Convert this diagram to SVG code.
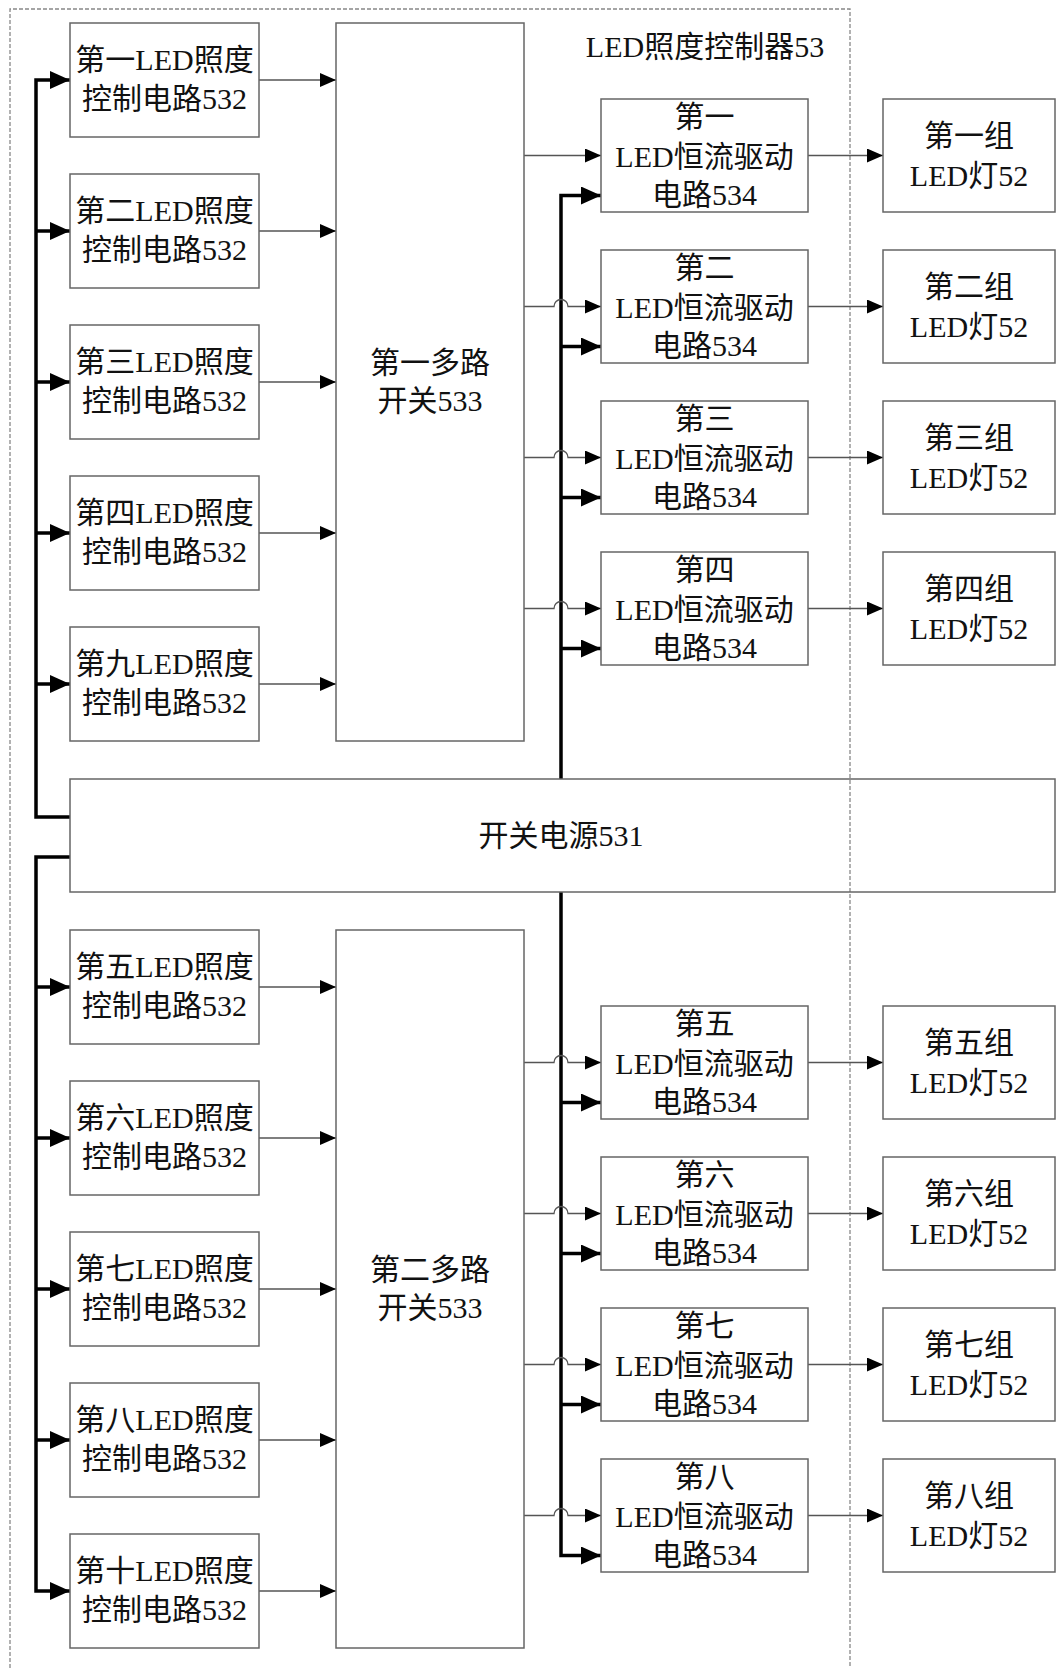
<svg xmlns="http://www.w3.org/2000/svg" width="1057" height="1668" viewBox="0 0 1057 1668">
<style>
.box{fill:none;stroke:#666;stroke-width:1.5}
.t{font-family:"Liberation Serif","Noto Sans CJK SC",serif;font-size:30px;fill:#111;text-anchor:middle}
.thin{fill:none;stroke:#555;stroke-width:1.3}
.thick{fill:none;stroke:#000;stroke-width:3.5}
.frame{fill:none;stroke:#888;stroke-width:1.3;stroke-dasharray:4,2}
</style>
<defs>
<marker id="a" markerUnits="userSpaceOnUse" markerWidth="16" markerHeight="14" refX="16" refY="7" orient="auto"><path d="M0,0 L16,7 L0,14 z" fill="#000"/></marker>
<marker id="b" markerUnits="userSpaceOnUse" markerWidth="20" markerHeight="18" refX="20" refY="9" orient="auto"><path d="M0,0 L20,9 L0,18 z" fill="#000"/></marker>
</defs>
<rect width="1057" height="1668" fill="#fff"/>

<g id="controller53">
<path class="frame" d="M10,1668 V9 H850 V1668"/>
<text class="t" x="705" y="57">LED照度控制器53</text>
</g>

<g id="connectors">
<!-- left buses -->
<path class="thick" d="M70,817 H36 V80 H70" marker-end="url(#b)"/>
<path class="thick" d="M36,231 H70" marker-end="url(#b)"/>
<path class="thick" d="M36,382 H70" marker-end="url(#b)"/>
<path class="thick" d="M36,533 H70" marker-end="url(#b)"/>
<path class="thick" d="M36,684 H70" marker-end="url(#b)"/>
<path class="thick" d="M70,857 H36 V1591 H70" marker-end="url(#b)"/>
<path class="thick" d="M36,987 H70" marker-end="url(#b)"/>
<path class="thick" d="M36,1138 H70" marker-end="url(#b)"/>
<path class="thick" d="M36,1289 H70" marker-end="url(#b)"/>
<path class="thick" d="M36,1440 H70" marker-end="url(#b)"/>
<!-- control circuits to mux -->
<path class="thin" d="M259,80 H336" marker-end="url(#a)"/>
<path class="thin" d="M259,231 H336" marker-end="url(#a)"/>
<path class="thin" d="M259,382 H336" marker-end="url(#a)"/>
<path class="thin" d="M259,533 H336" marker-end="url(#a)"/>
<path class="thin" d="M259,684 H336" marker-end="url(#a)"/>
<path class="thin" d="M259,987 H336" marker-end="url(#a)"/>
<path class="thin" d="M259,1138 H336" marker-end="url(#a)"/>
<path class="thin" d="M259,1289 H336" marker-end="url(#a)"/>
<path class="thin" d="M259,1440 H336" marker-end="url(#a)"/>
<path class="thin" d="M259,1591 H336" marker-end="url(#a)"/>
<!-- right power buses -->
<path class="thick" d="M561,779 V195.5 H601" marker-end="url(#b)"/>
<path class="thick" d="M561,346.5 H601" marker-end="url(#b)"/>
<path class="thick" d="M561,497.5 H601" marker-end="url(#b)"/>
<path class="thick" d="M561,648.5 H601" marker-end="url(#b)"/>
<path class="thick" d="M561,892 V1555.5 H601" marker-end="url(#b)"/>
<path class="thick" d="M561,1102.5 H601" marker-end="url(#b)"/>
<path class="thick" d="M561,1253.5 H601" marker-end="url(#b)"/>
<path class="thick" d="M561,1404.5 H601" marker-end="url(#b)"/>
<!-- mux to drivers -->
<path class="thin" d="M524,155.5 H601" marker-end="url(#a)"/>
<path class="thin" d="M524,306.5 H554 a7,7 0 0 1 14,0 H601" marker-end="url(#a)"/>
<path class="thin" d="M524,457.5 H554 a7,7 0 0 1 14,0 H601" marker-end="url(#a)"/>
<path class="thin" d="M524,608.5 H554 a7,7 0 0 1 14,0 H601" marker-end="url(#a)"/>
<path class="thin" d="M524,1062.5 H554 a7,7 0 0 1 14,0 H601" marker-end="url(#a)"/>
<path class="thin" d="M524,1213.5 H554 a7,7 0 0 1 14,0 H601" marker-end="url(#a)"/>
<path class="thin" d="M524,1364.5 H554 a7,7 0 0 1 14,0 H601" marker-end="url(#a)"/>
<path class="thin" d="M524,1515.5 H554 a7,7 0 0 1 14,0 H601" marker-end="url(#a)"/>
<!-- drivers to lamps -->
<path class="thin" d="M808,155.5 H883" marker-end="url(#a)"/>
<path class="thin" d="M808,306.5 H883" marker-end="url(#a)"/>
<path class="thin" d="M808,457.5 H883" marker-end="url(#a)"/>
<path class="thin" d="M808,608.5 H883" marker-end="url(#a)"/>
<path class="thin" d="M808,1062.5 H883" marker-end="url(#a)"/>
<path class="thin" d="M808,1213.5 H883" marker-end="url(#a)"/>
<path class="thin" d="M808,1364.5 H883" marker-end="url(#a)"/>
<path class="thin" d="M808,1515.5 H883" marker-end="url(#a)"/>
</g>

<!-- control circuits 532 -->
<g id="ctrl1"><rect class="box" x="70" y="23" width="189" height="114"/><text class="t" x="164.5" y="70">第一LED照度</text><text class="t" x="164.5" y="109">控制电路532</text></g>
<g id="ctrl2"><rect class="box" x="70" y="174" width="189" height="114"/><text class="t" x="164.5" y="221">第二LED照度</text><text class="t" x="164.5" y="260">控制电路532</text></g>
<g id="ctrl3"><rect class="box" x="70" y="325" width="189" height="114"/><text class="t" x="164.5" y="372">第三LED照度</text><text class="t" x="164.5" y="411">控制电路532</text></g>
<g id="ctrl4"><rect class="box" x="70" y="476" width="189" height="114"/><text class="t" x="164.5" y="523">第四LED照度</text><text class="t" x="164.5" y="562">控制电路532</text></g>
<g id="ctrl9"><rect class="box" x="70" y="627" width="189" height="114"/><text class="t" x="164.5" y="674">第九LED照度</text><text class="t" x="164.5" y="713">控制电路532</text></g>
<g id="ctrl5"><rect class="box" x="70" y="930" width="189" height="114"/><text class="t" x="164.5" y="977">第五LED照度</text><text class="t" x="164.5" y="1016">控制电路532</text></g>
<g id="ctrl6"><rect class="box" x="70" y="1081" width="189" height="114"/><text class="t" x="164.5" y="1128">第六LED照度</text><text class="t" x="164.5" y="1167">控制电路532</text></g>
<g id="ctrl7"><rect class="box" x="70" y="1232" width="189" height="114"/><text class="t" x="164.5" y="1279">第七LED照度</text><text class="t" x="164.5" y="1318">控制电路532</text></g>
<g id="ctrl8"><rect class="box" x="70" y="1383" width="189" height="114"/><text class="t" x="164.5" y="1430">第八LED照度</text><text class="t" x="164.5" y="1469">控制电路532</text></g>
<g id="ctrl10"><rect class="box" x="70" y="1534" width="189" height="114"/><text class="t" x="164.5" y="1581">第十LED照度</text><text class="t" x="164.5" y="1620">控制电路532</text></g>

<!-- multiplexers -->
<g id="mux1"><rect class="box" x="336" y="23" width="188" height="718"/><text class="t" x="430" y="373">第一多路</text><text class="t" x="430" y="411">开关533</text></g>
<g id="mux2"><rect class="box" x="336" y="930" width="188" height="718"/><text class="t" x="430" y="1280">第二多路</text><text class="t" x="430" y="1318">开关533</text></g>

<!-- switching power -->
<g id="power531"><rect class="box" x="70" y="779" width="985" height="113"/><text class="t" x="561" y="846">开关电源531</text></g>

<!-- drivers 534 -->
<g id="drv1"><rect class="box" x="601" y="99" width="207" height="113"/><text class="t" x="704.5" y="127">第一</text><text class="t" x="704.5" y="167">LED恒流驱动</text><text class="t" x="704.5" y="205">电路534</text></g>
<g id="drv2"><rect class="box" x="601" y="250" width="207" height="113"/><text class="t" x="704.5" y="278">第二</text><text class="t" x="704.5" y="318">LED恒流驱动</text><text class="t" x="704.5" y="356">电路534</text></g>
<g id="drv3"><rect class="box" x="601" y="401" width="207" height="113"/><text class="t" x="704.5" y="429">第三</text><text class="t" x="704.5" y="469">LED恒流驱动</text><text class="t" x="704.5" y="507">电路534</text></g>
<g id="drv4"><rect class="box" x="601" y="552" width="207" height="113"/><text class="t" x="704.5" y="580">第四</text><text class="t" x="704.5" y="620">LED恒流驱动</text><text class="t" x="704.5" y="658">电路534</text></g>
<g id="drv5"><rect class="box" x="601" y="1006" width="207" height="113"/><text class="t" x="704.5" y="1034">第五</text><text class="t" x="704.5" y="1074">LED恒流驱动</text><text class="t" x="704.5" y="1112">电路534</text></g>
<g id="drv6"><rect class="box" x="601" y="1157" width="207" height="113"/><text class="t" x="704.5" y="1185">第六</text><text class="t" x="704.5" y="1225">LED恒流驱动</text><text class="t" x="704.5" y="1263">电路534</text></g>
<g id="drv7"><rect class="box" x="601" y="1308" width="207" height="113"/><text class="t" x="704.5" y="1336">第七</text><text class="t" x="704.5" y="1376">LED恒流驱动</text><text class="t" x="704.5" y="1414">电路534</text></g>
<g id="drv8"><rect class="box" x="601" y="1459" width="207" height="113"/><text class="t" x="704.5" y="1487">第八</text><text class="t" x="704.5" y="1527">LED恒流驱动</text><text class="t" x="704.5" y="1565">电路534</text></g>

<!-- LED lamp groups 52 -->
<g id="lamp1"><rect class="box" x="883" y="99" width="172" height="113"/><text class="t" x="969" y="146">第一组</text><text class="t" x="969" y="186">LED灯52</text></g>
<g id="lamp2"><rect class="box" x="883" y="250" width="172" height="113"/><text class="t" x="969" y="297">第二组</text><text class="t" x="969" y="337">LED灯52</text></g>
<g id="lamp3"><rect class="box" x="883" y="401" width="172" height="113"/><text class="t" x="969" y="448">第三组</text><text class="t" x="969" y="488">LED灯52</text></g>
<g id="lamp4"><rect class="box" x="883" y="552" width="172" height="113"/><text class="t" x="969" y="599">第四组</text><text class="t" x="969" y="639">LED灯52</text></g>
<g id="lamp5"><rect class="box" x="883" y="1006" width="172" height="113"/><text class="t" x="969" y="1053">第五组</text><text class="t" x="969" y="1093">LED灯52</text></g>
<g id="lamp6"><rect class="box" x="883" y="1157" width="172" height="113"/><text class="t" x="969" y="1204">第六组</text><text class="t" x="969" y="1244">LED灯52</text></g>
<g id="lamp7"><rect class="box" x="883" y="1308" width="172" height="113"/><text class="t" x="969" y="1355">第七组</text><text class="t" x="969" y="1395">LED灯52</text></g>
<g id="lamp8"><rect class="box" x="883" y="1459" width="172" height="113"/><text class="t" x="969" y="1506">第八组</text><text class="t" x="969" y="1546">LED灯52</text></g>
</svg>
